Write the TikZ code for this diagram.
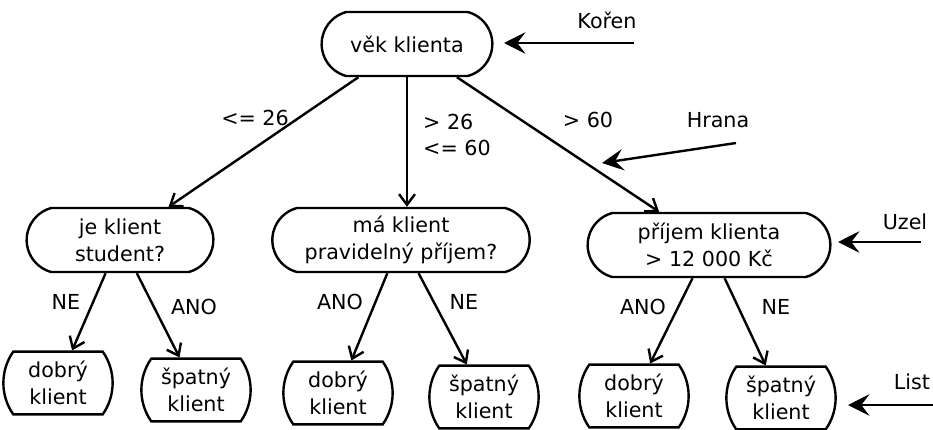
\documentclass[tikz,border=0pt]{standalone}
\usepackage{fontspec}
\setmainfont{DejaVu Sans}
\usetikzlibrary{shapes.misc,arrows.meta}
\begin{document}
\begin{tikzpicture}
[x=0.75pt,y=-0.75pt,line width=1.8pt,font=\fontsize{15.5}{20}\selectfont]
\tikzstyle{test node}=[rounded rectangle,rounded rectangle arc length=150,draw,align=center,inner sep=0,minimum height=48pt]
\tikzstyle{leaf node}=[rounded rectangle,rounded rectangle arc length=70,draw,align=center,inner sep=0,minimum height=47pt]
\tikzstyle{tree edge}=[-{Straight Barb[length=8pt,width=12pt]}]
\tikzstyle{pointer}=[-{Stealth[length=16pt,width=16pt,inset=6pt]}]
\tikzstyle{edge text}=[align=left,inner sep=0]

\useasboundingbox (0,0) rectangle (933,429);

\node(0)[test node,minimum width=128pt]at(407,44){věk klienta};
\node(1)[test node,minimum width=140pt]at(120,240){je klient\\student?};
\node(2)[test node,minimum width=193pt]at(401,240){má klient\\pravidelný příjem?};
\node(3)[test node,minimum width=182pt]at(709,245){příjem klienta\\> 12 000 Kč};

\node(4)[leaf node,minimum width=70pt]at(58,383){dobrý\\klient};
\node(5)[leaf node,minimum width=77pt]at(196,390){špatný\\klient};
\node(6)[leaf node,minimum width=70pt]at(338,393){dobrý\\klient};
\node(7)[leaf node,minimum width=77pt]at(484,397){špatný\\klient};
\node(8)[leaf node,minimum width=70pt]at(634,396){dobrý\\klient};
\node(9)[leaf node,minimum width=80pt]at(781,398){špatný\\klient};

\draw[tree edge](0)--(1);
\draw[tree edge](0.south)--(0.south|-2.north);
\draw[tree edge](0)--(3);
\draw[tree edge](1)--(4);
\draw[tree edge](1)--(5);
\draw[tree edge](2)--(6);
\draw[tree edge](2)--(7);
\draw[tree edge](3)--(8);
\draw[tree edge](3)--(9);

\node(e1)[edge text]at(255,118){<= 26};
\node(e2)[edge text,anchor=west]at(422,135){> 26\\<= 60};
\node(e3)[edge text]at(588,120){> 60};
\node(e4)[edge text]at(66,302){NE};
\node(e5)[edge text]at(194,307){ANO};
\node(e6)[edge text]at(340,302){ANO};
\node(e7)[edge text]at(464,302){NE};
\node(e8)[edge text]at(643,307){ANO};
\node(e9)[edge text]at(776,307){NE};

\node(koren)[edge text]at(607,20){Kořen};
\node(hrana)[edge text]at(718,120){Hrana};
\node(uzel)[edge text]at(905,222){Uzel};
\node(list)[edge text]at(912,382){List};

\coordinate(k1)at(634,43);
\coordinate(k2)at(504,43);
\coordinate(h1)at(736,143);
\coordinate(h2)at(602,163);
\coordinate(u1)at(921,242);
\coordinate(u2)at(838,242);
\coordinate(l1)at(933,405);
\coordinate(l2)at(848,405);

\draw[pointer](k1)--(k2);
\draw[pointer](h1)--(h2);
\draw[pointer](u1)--(u2);
\draw[pointer](l1)--(l2);
\end{tikzpicture}
\end{document}
